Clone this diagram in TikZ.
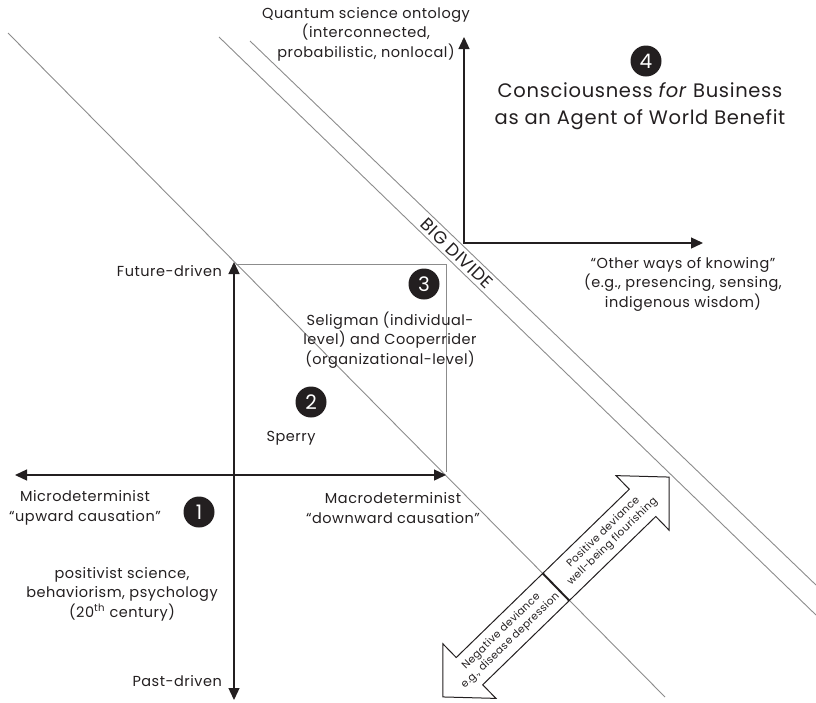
\documentclass[tikz,border=0pt]{standalone}
\usepackage{fontspec}
\setmainfont{Poppins}[LetterSpace=3.5]
\usetikzlibrary{arrows.meta}
\definecolor{thin}{RGB}{140,140,140}
\definecolor{ink}{RGB}{35,31,32}
\begin{document}
\begin{tikzpicture}[x=1pt,y=-1pt,
  divline/.style={draw=thin,line width=0.9pt},
  boxline/.style={draw=thin,line width=0.9pt},
  dblaxis/.style={draw=ink,line width=1.3pt,{Triangle[length=12pt,width=11pt]}-{Triangle[length=12pt,width=11pt]}},
  lbl/.style={font=\fontsize{14.5}{19.5}\selectfont, text=ink, align=center, inner sep=0pt},
  biglbl/.style={font=\fontsize{19.5}{27}\selectfont, text=ink, align=center, inner sep=0pt},
  small/.style={font=\fontsize{10.5}{13}\selectfont, text=ink, align=center, inner sep=0pt},
  num/.style={circle, fill=ink, text=white, minimum size=31pt, inner sep=0pt, font=\fontsize{20}{20}\selectfont},
  blockarrow/.style={draw=ink, line width=1pt, fill=white, line join=miter}
]
\useasboundingbox (0,0) rectangle (816,702);

% diagonal dividing lines
\coordinate (a1) at (8,33);   \coordinate (a2) at (665,697);
\coordinate (b1) at (219,37); \coordinate (b2) at (816,615);
\coordinate (c1) at (250,41); \coordinate (c2) at (816,585);
\draw[divline] (a1) -- (a2);
\draw[divline] (b1) -- (b2);
\draw[divline] (c1) -- (c2);

% lower axes
\coordinate (xl) at (15,475);  \coordinate (xr) at (446,475);
\coordinate (yu) at (234,262); \coordinate (yd) at (234,700);
\draw[dblaxis] (xl) -- (xr);
\draw[dblaxis] (yd) -- (yu);

% box of quadrant
\coordinate (bx1) at (236,264); \coordinate (bx2) at (446,264); \coordinate (bx3) at (446,472);
\draw[boxline] (bx1) -- (bx2) -- (bx3);

% upper axes
\coordinate (qt) at (464,37); \coordinate (O2) at (464,243); \coordinate (ot) at (703,243);
\draw[dblaxis] (qt) -- (O2) -- (ot);

% labels
\node[lbl] (quant) at (366,34) {Quantum science ontology\\(interconnected,\\probabilistic, nonlocal)};
\node[num] (n4) at (646,61) {4};
\node[biglbl] (cons) at (640,106) {Consciousness \textit{for} Business\\as an Agent of World Benefit};
\node[font=\fontsize{17.5}{17.5}\selectfont, text=ink, rotate=-44, inner sep=0pt] (bd) at (457,253.5) {BIG DIVIDE};
\node[lbl] (other) at (683,284) {“Other ways of knowing”\\(e.g., presencing, sensing,\\indigenous wisdom)};
\node[num] (n3) at (424,284) {3};
\node[lbl] (selig) at (390,340) {Seligman (individual-\\level) and Cooperrider\\(organizational-level)};
\node[num] (n2) at (311,402) {2};
\node[lbl] (sperry) at (291,438) {Sperry};
\node[lbl, anchor=east] (fut) at (222,271) {Future-driven};
\node[lbl, anchor=east] (past) at (222,681) {Past-driven};
\node[lbl] (micro) at (85,508) {Microdeterminist\\“upward causation”};
\node[num] (n1) at (199,512) {1};
\node[lbl] (macro) at (393,508) {Macrodeterminist\\“downward causation”};
\node[lbl] (posit) at (122,594) {positivist science,\\behaviorism, psychology\\(20\textsuperscript{th} century)};

% block double arrow
\begin{scope}[shift={(556,587)}, rotate=44.2]
  \draw[blockarrow] (157.7,0) -- (120.7,38) -- (120.7,19) -- (-120.7,19) -- (-120.7,38) -- (-157.7,0)
        -- (-120.7,-38) -- (-120.7,-19) -- (120.7,-19) -- (120.7,-38) -- cycle;
  \coordinate (m1) at (0,19); \coordinate (m2) at (0,-19);
  \draw[draw=ink, line width=2pt] (m1) -- (m2);
\end{scope}
\node[small, rotate=44.2] (pos) at (608,537) {Positive deviance\\well-being flourishing};
\node[small, rotate=44.2] (neg) at (506,636) {Negative deviance\\e.g., disease depression};
\end{tikzpicture}
\end{document}
